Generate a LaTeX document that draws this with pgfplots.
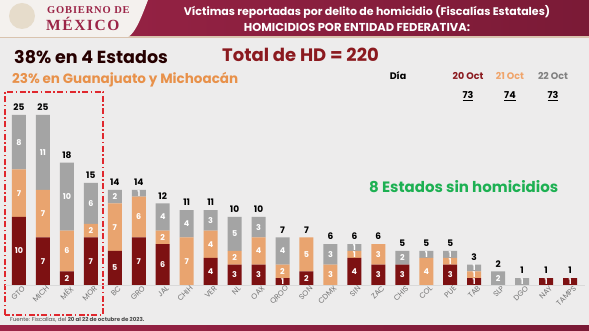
\documentclass[border=0pt]{standalone}
\usepackage{pgfplots}
\pgfplotsset{compat=1.18}
\usepackage{pgfplotstable}
\usepackage{fontspec}
\setmainfont{Poppins}
\newfontfamily\serifa{Liberation Serif}[LetterSpace=8]
\newfontfamily\serifb{Liberation Serif}[LetterSpace=10]
\definecolor{cA}{HTML}{7D1112}
\definecolor{cB}{HTML}{E9A46F}
\definecolor{cC}{HTML}{A4A4A4}
\definecolor{bg}{HTML}{EDECEC}
\definecolor{maroon}{HTML}{9B2447}
\definecolor{maroonD}{HTML}{7A1A36}
\definecolor{titred}{HTML}{8B1A1F}
\definecolor{orng}{HTML}{E8914A}
\definecolor{orngL}{HTML}{F0A46A}
\definecolor{grn}{HTML}{1DB052}
\definecolor{panel}{HTML}{F4F1EE}
\definecolor{emb}{HTML}{E6DCCB}
\definecolor{boxred}{HTML}{E0282E}
\definecolor{tan}{HTML}{D9C3AE}
\pgfplotstableread{
x a b c t
0 10 7 8 25
1 7 7 11 25
2 2 6 10 18
3 7 2 6 15
4 5 7 2 14
5 7 6 1 14
6 6 2 4 12
7 0 7 4 11
8 4 4 3 11
9 3 2 5 10
10 3 4 3 10
11 1 2 4 7
12 2 5 0 7
13 0 3 3 6
14 4 1 1 6
15 3 3 0 6
16 3 0 2 5
17 0 4 1 5
18 3 1 1 5
19 1 1 1 3
20 0 0 2 2
21 0 0 1 1
22 1 0 0 1
23 1 0 0 1
}\data
\pgfplotsset{
  base/.style={at={(5pt,46pt)}, anchor=south west,
    scale only axis, width=580pt, height=204pt,
    xmin=-0.584, xmax=23.626, ymin=0, ymax=30, clip=false,
    /pgf/number format/assume math mode=true},
  lab/.style={only marks, mark=none, point meta=explicit,
    nodes near coords={\pgfmathfloatifflags{\pgfplotspointmeta}{0}{}{\pgfmathprintnumber{\pgfplotspointmeta}}},
    every node near coord/.append style={anchor=center, text=white, inner sep=0pt,
      font=\fontsize{8}{8}\selectfont\bfseries}}
}
\begin{document}
\begin{tikzpicture}
\fill[bg] (0pt,0pt) rectangle (589pt,331pt);
% header band
\shade[left color=maroon, right color=maroonD] (0pt,295pt) rectangle (589pt,331pt);
\fill[tan] (0pt,293pt) rectangle (589pt,295pt);
\fill[panel] (0pt,331pt) -- (148pt,331pt) .. controls (140pt,310pt) and (135pt,298pt) .. (128pt,294pt) -- (0pt,294pt) -- cycle;
\fill[emb] (22pt,315pt) circle (13pt);
\node[anchor=west, text=maroon, inner sep=0pt, font=\serifa\bfseries\fontsize{10.5}{11}\selectfont] at (47pt,321pt) {GOBIERNO DE};
\node[anchor=west, text=maroon, inner sep=0pt, font=\serifb\bfseries\fontsize{15.5}{16}\selectfont] at (46pt,307pt) {MÉXICO};
\node[text=white, inner sep=0pt, font=\bfseries\fontsize{11}{12}\selectfont] at (367pt,319pt) {Víctimas reportadas por delito de homicidio (Fiscalías Estatales)};
\node[text=white, inner sep=0pt, font=\bfseries\fontsize{11.5}{12}\selectfont] at (357pt,304pt) {HOMICIDIOS POR ENTIDAD FEDERATIVA:};
% bottom band
\shade[left color=maroon, right color=maroonD] (0pt,0pt) rectangle (589pt,5pt);
% titles
\node[anchor=west, text=black!85!red, inner sep=0pt, font=\bfseries\fontsize{17.5}{18}\selectfont] at (14pt,274pt) {38\% en 4 Estados};
\node[anchor=west, text=titred, inner sep=0pt, font=\bfseries\fontsize{18}{18}\selectfont] at (222pt,276pt) {Total de HD = 220};
\node[anchor=west, text=orng, inner sep=0pt, font=\bfseries\fontsize{13.5}{14}\selectfont] at (12pt,251pt) {23\% en Guanajuato y Michoacán};
\node[text=black, inner sep=0pt, font=\bfseries\fontsize{9.5}{10}\selectfont] at (398pt,255pt) {Día};
\node[text=titred, inner sep=0pt, font=\bfseries\fontsize{9.5}{10}\selectfont] at (468pt,255pt) {20 Oct};
\node[text=orngL, inner sep=0pt, font=\bfseries\fontsize{9.5}{10}\selectfont] at (510pt,255pt) {21 Oct};
\node[text=black!50, inner sep=0pt, font=\bfseries\fontsize{9.5}{10}\selectfont] at (553pt,255pt) {22 Oct};
\node[text=black, inner sep=0pt, font=\bfseries\fontsize{9.5}{10}\selectfont] at (468pt,235pt) {\underline{73}};
\node[text=black, inner sep=0pt, font=\bfseries\fontsize{9.5}{10}\selectfont] at (510pt,235pt) {\underline{74}};
\node[text=black, inner sep=0pt, font=\bfseries\fontsize{9.5}{10}\selectfont] at (553pt,235pt) {\underline{73}};
\node[anchor=west, text=grn, inner sep=0pt, font=\bfseries\fontsize{15}{15}\selectfont] at (369pt,144pt) {8 Estados sin homicidios};
\node[anchor=west, text=black!70, inner sep=0pt, font=\fontsize{5.5}{6}\selectfont] at (10pt,11pt) {Fuente: Fiscalías, del \textbf{20 al 22 de octubre de 2023.}};
\draw[boxred, line width=1.1pt, dash pattern=on 6pt off 2.5pt on 1.5pt off 2.5pt] (5pt,16pt) rectangle (103pt,239pt);
\begin{axis}[base,
  ybar stacked, bar width=14pt,
  axis x line*=bottom, axis y line=none,
  x axis line style={draw=black!15, line width=0.6pt, -},
  xtick={0,...,23}, major tick length=0pt,
  xticklabels={GTO,MICH,MÉX,MOR,BC,GRO,JAL,CHIH,VER,NL,OAX,QROO,SON,CDMX,SIN,ZAC,CHIS,COL,PUE,TAB,SLP,DGO,NAY,TAMPS},
  xticklabel style={rotate=45, anchor=east, text=black!55, inner sep=1pt, font=\fontsize{7.5}{7.5}\selectfont, yshift=-5pt, xshift=3pt},
]
\addplot[draw=none, fill=cA] table[x=x, y=a]{\data};
\addplot[draw=none, fill=cB] table[x=x, y=b]{\data};
\addplot[draw=none, fill=cC] table[x=x, y=c]{\data};
\end{axis}
\begin{axis}[base, hide axis]
\addplot[lab] table[x=x, y expr=\thisrow{a}/2, meta=a]{\data};
\addplot[lab] table[x=x, y expr=\thisrow{a}+\thisrow{b}/2, meta=b]{\data};
\addplot[lab] table[x=x, y expr=\thisrow{a}+\thisrow{b}+\thisrow{c}/2, meta=c]{\data};
\addplot[only marks, mark=none, point meta=explicit, nodes near coords,
  every node near coord/.append style={anchor=south, text=black, inner sep=0pt, yshift=4pt,
    font=\fontsize{9}{9}\selectfont\bfseries}]
  table[x=x, y=t, meta=t]{\data};
\end{axis}
\end{tikzpicture}
\end{document}
